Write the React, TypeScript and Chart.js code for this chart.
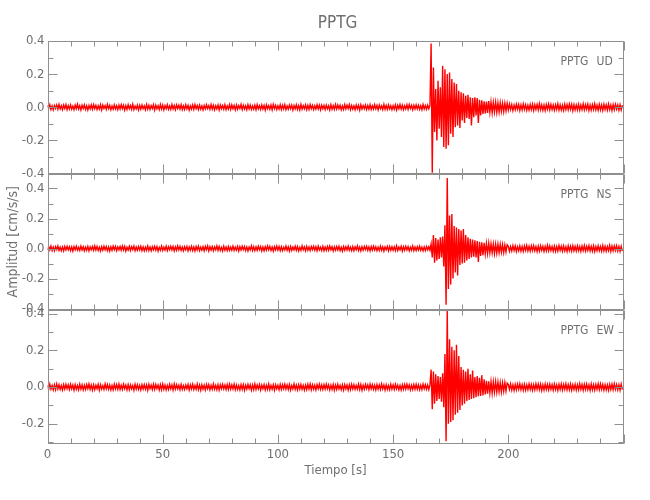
import React, { useEffect, useRef } from "react";
import { Chart, registerables } from "chart.js";

Chart.register(...registerables);

// ---------------- data ----------------
const TITLE = "PPTG";
const STATION = "PPTG";
const COMPONENTS = ["UD", "NS", "EW"];
const X_LABEL = "Tiempo [s]";
const Y_LABEL = "Amplitud [cm/s/s]";
const DT = 0.5; // sampling step of the traces below, in seconds
const MILLI = 0.001; // values are written in milli-(cm/s/s)

const X_RANGE = [0, 250];
const X_TICKS = [0, 50, 100, 150, 200];
const Y_RANGE_UD = [-0.4, 0.4];
const Y_RANGE_NS = [-0.41, 0.5];
const Y_RANGE_EW = [-0.31, 0.42];
const Y_TICKS_UD = [-0.4, -0.2, 0, 0.2, 0.4];
const Y_TICKS_NS = [-0.4, -0.2, 0, 0.2, 0.4];
const Y_TICKS_EW = [-0.2, 0, 0.2, 0.4];

// UD component: 0 - 166 s
const UD_PRE = [
  12,-9,15,-13,8,-16,11,-7,14,-12,17,-10,9,-14,13,-8,16,-15,10,-11,
  14,-12,7,-15,13,-9,18,-11,10,-16,12,-8,15,-13,9,-17,11,-10,14,-12,
  16,-8,12,-14,9,-11,15,-16,13,-7,10,-13,17,-9,11,-15,8,-12,14,-10,
  9,-14,13,-11,16,-8,12,-17,10,-13,15,-9,11,-12,18,-14,7,-10,13,-16,
  11,-12,14,-9,8,-15,16,-11,12,-13,10,-8,15,-17,13,-10,9,-14,17,-11,
  13,-16,10,-9,15,-12,8,-13,17,-10,11,-15,14,-8,12,-11,16,-14,9,-13,
  15,-10,12,-17,9,-11,14,-13,16,-9,10,-14,13,-12,8,-16,11,-10,15,-8,
  10,-13,17,-11,12,-15,9,-10,14,-16,13,-9,11,-12,15,-14,8,-11,16,-13,
  14,-9,11,-16,13,-12,10,-8,17,-14,12,-11,9,-15,16,-10,13,-13,8,-12,
  12,-15,16,-10,9,-13,14,-11,11,-17,15,-9,10,-12,13,-16,17,-8,12,-14,
  9,-11,15,-13,12,-10,16,-14,8,-12,14,-9,13,-17,11,-10,15,-13,10,-16,
  17,-12,10,-9,14,-15,11,-13,16,-8,12,-14,9,-11,15,-10,13,-16,12,-9,
  11,-14,13,-10,9,-16,15,-12,10,-13,17,-11,14,-9,12,-15,8,-13,16,-10,
  13,-8,16,-14,11,-12,9,-15,14,-10,12,-17,15,-11,10,-9,13,-14,11,-12,
  16,-13,9,-11,15,-10,12,-16,13,-9,8,-14,17,-12,11,-13,14,-10,9,-15,
  10,-12,14,-16,12,-9,17,-11,13,-14,9,-10,15,-13,16,-8,11,-15,12,-11,
  14,-10,12,-13,9,-15,16,-11,10,-12,13,-9,11,
];
// UD component: 166.5 - 199.5 s
const UD_EVENT = [
  385,-395,240,-150,110,-200,160,-130,120,-180,
  250,-240,230,-250,200,-230,210,-160,170,-180,
  150,-120,140,-110,100,-125,90,-80,85,-95,
  70,-65,75,-70,60,-110,55,-60,60,-50,
  55,-95,45,-50,42,-40,36,-38,34,-35,
  37,-30,32,-33,29,-28,30,-31,26,-28,
  27,-25,24,-26,25,-22,23,
];
// UD component: 200 - 249.5 s
const UD_POST = [
  -17,19,-14,16,-20,13,-15,18,-12,17,-19,14,-16,20,-13,15,-18,12,-17,16,
  -14,18,-19,15,-13,17,-16,21,-15,14,-18,13,-20,16,-12,19,-15,17,-14,13,
  -18,15,-13,20,-17,14,-16,12,-19,18,-14,16,-15,19,-13,17,-21,15,-16,14,
  -15,17,-18,13,-14,20,-16,15,-12,18,-19,14,-17,16,-13,21,-15,12,-18,17,
  -16,14,-19,18,-13,15,-17,19,-14,13,-20,16,-15,17,-12,14,-18,15,-16,13,
];

// NS component
const NS_PRE = [
  -11,14,-9,16,-13,10,-15,12,-8,17,-12,9,-14,11,-16,13,-10,15,-9,12,
  -14,10,-17,13,-9,15,-11,8,-13,16,-10,12,-15,9,-12,14,-16,11,-8,13,
  -12,17,-10,14,-13,9,-16,12,-11,15,-9,13,-14,10,-17,11,-12,16,-8,14,
  -15,11,-9,13,-12,16,-10,14,-17,9,-11,15,-13,12,-8,16,-14,10,-12,13,
  -10,15,-14,11,-16,9,-12,17,-13,10,-15,12,-9,14,-11,13,-17,8,-12,16,
  -13,9,-11,16,-14,12,-8,15,-10,13,-16,11,-12,17,-9,14,-13,10,-15,12,
  -9,14,-16,10,-12,15,-13,11,-17,13,-10,16,-14,9,-11,12,-15,14,-8,17,
  -16,12,-10,13,-15,11,-9,17,-12,14,-13,8,-16,15,-11,10,-14,13,-12,9,
  -12,16,-13,9,-11,14,-17,12,-10,15,-8,13,-14,11,-16,10,-9,17,-13,12,
  -14,11,-12,15,-9,13,-16,10,-15,12,-11,17,-8,14,-13,9,-17,12,-10,16,
  -11,13,-15,12,-14,9,-10,16,-12,11,-17,14,-13,10,-9,15,-12,13,-16,8,
  -13,17,-9,11,-16,14,-12,10,-14,13,-8,15,-11,12,-15,16,-10,9,-13,14,
  -15,10,-13,14,-11,17,-9,12,-16,11,-12,13,-10,15,-14,8,-17,13,-11,12,
  -10,16,-12,9,-14,13,-15,11,-9,17,-13,10,-16,12,-11,14,-8,15,-12,11,
  -16,13,-11,15,-10,12,-14,9,-13,16,-12,11,-17,10,-9,14,-15,13,-11,12,
  -12,11,-14,17,-13,10,-9,15,-16,12,-11,14,-10,13,-15,9,-12,16,-14,10,
  -13,12,-10,15,-12,9,-16,11,-14,13,-9,12,-11,
];
const NS_EVENT = [
  30,-60,90,-95,70,-80,60,-70,75,-60,
  80,-120,155,-375,470,-270,220,-240,230,-200,
  150,-160,140,-180,130,-110,120,-100,130,-95,
  90,-80,75,-70,65,-60,60,-55,55,-60,
  50,-90,45,-50,42,-45,38,-36,34,-32,
  35,-30,31,-29,30,-33,28,-30,29,-27,
  28,-25,26,-27,24,-23,25,
];
const NS_POST = [
  15,-18,13,-16,19,-14,17,-20,12,-15,18,-17,14,-19,16,-13,20,-16,15,-18,
  17,-14,19,-15,13,-20,16,-17,18,-12,15,-19,14,-16,21,-15,17,-14,13,-18,
  16,-19,14,-17,20,-13,15,-18,17,-16,12,-20,18,-14,16,-17,19,-15,14,-16,
  18,-15,13,-19,16,-14,20,-17,15,-13,19,-16,14,-18,17,-20,13,-15,18,-14,
  14,-17,19,-16,15,-18,13,-14,20,-19,16,-15,17,-13,18,-16,14,-19,15,-17,
];

// EW component
const EW_PRE = [
  10,-13,16,-11,9,-15,12,-14,17,-10,13,-12,8,-16,14,-11,15,-9,12,-13,
  15,-10,11,-17,13,-12,9,-14,16,-11,12,-15,10,-13,14,-9,17,-12,11,-16,
  12,-14,10,-9,15,-16,13,-11,8,-13,17,-10,14,-12,11,-15,9,-14,16,-10,
  14,-11,17,-13,10,-12,16,-9,11,-15,13,-14,12,-10,9,-17,15,-11,13,-12,
  9,-16,13,-10,14,-11,12,-17,15,-9,10,-13,16,-12,14,-8,11,-15,13,-14,
  16,-12,11,-15,9,-13,14,-10,12,-16,17,-11,13,-9,10,-14,15,-12,8,-13,
  11,-9,14,-16,12,-10,15,-13,9,-12,16,-14,11,-17,13,-11,10,-15,14,-9,
  13,-15,9,-12,17,-11,10,-14,13,-16,12,-9,15,-10,11,-13,14,-12,16,-11,
  12,-10,16,-14,11,-13,8,-15,14,-12,13,-17,10,-11,15,-9,12,-16,11,-14,
  17,-13,12,-10,14,-16,11,-9,13,-15,10,-12,16,-14,9,-11,13,-17,12,-10,
  10,-14,15,-12,13,-9,16,-11,12,-13,14,-16,9,-10,17,-12,11,-15,13,-11,
  14,-12,9,-16,11,-13,15,-10,17,-14,12,-11,10,-15,13,-9,16,-12,11,-13,
  13,-11,16,-9,12,-15,10,-13,14,-17,11,-12,15,-10,9,-14,12,-16,13,-10,
  11,-16,12,-14,15,-10,13,-12,9,-11,16,-13,14,-17,10,-12,15,-9,12,-14,
  16,-9,13,-12,10,-15,14,-11,12,-13,17,-10,11,-16,13,-12,9,-14,15,-11,
  12,-13,15,-10,11,-14,9,-16,13,-12,14,-11,16,-9,12,-15,10,-13,14,-12,
  15,-11,12,-14,10,-13,16,-9,13,-12,11,-14,12,
];
const EW_EVENT = [
  95,-120,85,-90,70,-75,60,-65,55,-80,
  75,-110,180,-295,415,-200,260,-190,220,-180,
  200,-150,230,-140,170,-125,110,-100,95,-90,
  85,-75,100,-70,70,-65,90,-60,55,-55,
  60,-50,50,-48,65,-45,42,-40,34,-36,
  32,-31,30,-33,28,-27,29,-26,27,-25,
  24,-26,23,-22,24,-21,22,
];
const EW_POST = [
  15,-13,17,-16,12,-18,14,-15,16,-12,18,-14,13,-17,15,-16,12,-14,17,-13,
  14,-17,13,-15,18,-12,16,-14,15,-18,12,-16,17,-13,14,-15,16,-12,13,-17,
  16,-14,12,-18,15,-13,17,-16,14,-12,18,-15,13,-14,16,-17,12,-13,15,-16,
  13,-15,18,-12,14,-17,15,-13,16,-14,12,-18,17,-15,13,-16,14,-12,18,-14,
  17,-12,14,-16,13,-15,12,-17,15,-13,16,-14,18,-12,14,-15,13,-17,16,-14,
];

const UD = [...UD_PRE, ...UD_EVENT, ...UD_POST];
const NS = [...NS_PRE, ...NS_EVENT, ...NS_POST];
const EW = [...EW_PRE, ...EW_EVENT, ...EW_POST];

// ---------------- styling ----------------
const FONT = "'Liberation Sans Narrow', 'DejaVu Sans Condensed', 'Liberation Sans', sans-serif";
const TEXT = "#6f6f6f";
const AXIS = "#8f8f8f";
const TRACE = "#ff0000";
const PLOT_LEFT = 47.5;
const PLOT_RIGHT_PAD = 26.5;
const PLOT_TOP = 41;
const X_AXIS_H = 56;

const fmt = (v: number) => (Math.abs(v) < 1e-9 ? "0.0" : v.toFixed(1));

const framesPlugin = {
  id: "frames",
  afterDatasetsDraw(chart: any) {
    const ctx = chart.ctx as CanvasRenderingContext2D;
    const xs = chart.scales.x;
    const left = chart.chartArea.left;
    const right = chart.chartArea.right;
    ctx.save();
    ctx.strokeStyle = AXIS;
    ctx.lineWidth = 1;
    ["yUD", "yNS", "yEW"].forEach((id) => {
      const ys = chart.scales[id];
      const top = Math.round(ys.top) + 0.5;
      const bottom = Math.round(ys.bottom) - 0.5;
      const l = Math.round(left) + 0.5;
      const r = Math.round(right) - 0.5;
      ctx.beginPath();
      ctx.moveTo(l, top);
      ctx.lineTo(r, top);
      ctx.lineTo(r, bottom);
      ctx.lineTo(l, bottom);
      ctx.closePath();
      for (let t = X_RANGE[0]; t <= X_RANGE[1]; t += 10) {
        const px = Math.round(xs.getPixelForValue(t)) + 0.5;
        const len = t % 50 === 0 ? 9 : 5;
        ctx.moveTo(px, top);
        ctx.lineTo(px, top + len);
        ctx.moveTo(px, bottom);
        ctx.lineTo(px, bottom - len);
      }
      const k0 = Math.ceil(ys.min * 10 - 1e-6);
      const k1 = Math.floor(ys.max * 10 + 1e-6);
      for (let k = k0; k <= k1; k++) {
        const py = Math.round(ys.getPixelForValue(k / 10)) + 0.5;
        const len = k % 2 === 0 ? 9 : 5;
        ctx.moveTo(l, py);
        ctx.lineTo(l + len, py);
        ctx.moveTo(r, py);
        ctx.lineTo(r - len, py);
      }
      ctx.stroke();
    });
    ctx.restore();
  },
  afterDraw(chart: any) {
    const ctx = chart.ctx as CanvasRenderingContext2D;
    const { left, right } = chart.chartArea;
    ctx.save();
    ctx.fillStyle = TEXT;
    ctx.textBaseline = "middle";
    ctx.textAlign = "center";
    ctx.font = `17px ${FONT}`;
    ctx.fillText(TITLE, (left + right) / 2 + 2, 24);
    ctx.font = `12px ${FONT}`;
    ctx.textAlign = "left";
    ["yUD", "yNS", "yEW"].forEach((id, i) => {
      const ys = chart.scales[id];
      const y = ys.top + 21;
      ctx.fillText(STATION, right - 63, y);
      ctx.fillText(COMPONENTS[i], right - 27, y);
    });
    ctx.restore();
  },
};

export default function App() {
  const ref = useRef<HTMLCanvasElement>(null);

  useEffect(() => {
    const canvas = ref.current;
    if (!canvas) return;
    const time = UD.map((_, i) => i * DT);
    const pts = (vals: number[]) => time.map((t, i) => ({ x: t, y: vals[i] * MILLI }));

    const yScale = (range: number[], ticks: number[], weight: number, title?: string) => ({
      type: "linear",
      position: "left",
      stack: "seis",
      stackWeight: weight,
      min: range[0],
      max: range[1],
      grid: { display: false, drawTicks: false },
      border: { display: false },
      ticks: {
        autoSkip: false,
        padding: 3,
        color: TEXT,
        font: { family: FONT, size: 13 },
        callback: (v: any) => fmt(Number(v)),
      },
      afterBuildTicks: (s: any) => {
        s.ticks = ticks.map((v) => ({ value: v }));
      },
      afterFit: (s: any) => {
        s.width = PLOT_LEFT;
      },
      title: title
        ? {
            display: true,
            text: title,
            color: TEXT,
            font: { family: FONT, size: 14 },
            padding: { top: 5, bottom: 0 },
          }
        : { display: false },
    });

    const ds = (vals: number[], yAxisID: string, label: string) => ({
      label,
      data: pts(vals),
      yAxisID,
      xAxisID: "x",
      borderColor: TRACE,
      borderWidth: 1.4,
      pointRadius: 0,
      tension: 0,
      fill: false,
    });

    // stacked y axes are laid out bottom-up: EW first (bottom), UD last (top)
    const chart = new Chart(canvas, {
      type: "line",
      data: {
        datasets: [
          ds(UD, "yUD", `${STATION} ${COMPONENTS[0]}`),
          ds(NS, "yNS", `${STATION} ${COMPONENTS[1]}`),
          ds(EW, "yEW", `${STATION} ${COMPONENTS[2]}`),
        ],
      },
      options: {
        responsive: false,
        animation: false,
        devicePixelRatio: 1,
        normalized: true,
        layout: { padding: { top: PLOT_TOP, right: PLOT_RIGHT_PAD, bottom: 0, left: 0 } },
        plugins: { legend: { display: false }, tooltip: { enabled: false }, title: { display: false } },
        scales: {
          x: {
            type: "linear",
            position: "bottom",
            min: X_RANGE[0],
            max: X_RANGE[1],
            grid: { display: false, drawTicks: false },
            border: { display: false },
            ticks: {
              autoSkip: false,
              maxRotation: 0,
              padding: 3,
              color: TEXT,
              font: { family: FONT, size: 13 },
            },
            afterBuildTicks: (s: any) => {
              s.ticks = X_TICKS.map((v) => ({ value: v }));
            },
            afterFit: (s: any) => {
              s.height = X_AXIS_H;
            },
            title: {
              display: true,
              text: X_LABEL,
              color: TEXT,
              font: { family: FONT, size: 13 },
              padding: { top: 0, bottom: 22 },
            },
          },
          yEW: yScale(Y_RANGE_EW, Y_TICKS_EW, 134),
          yNS: yScale(Y_RANGE_NS, Y_TICKS_NS, 136.5, Y_LABEL),
          yUD: yScale(Y_RANGE_UD, Y_TICKS_UD, 132.5),
        } as any,
      },
      plugins: [framesPlugin],
    } as any);

    return () => chart.destroy();
  }, []);

  return (
    <div style={{ position: "fixed", left: 0, top: 0, width: 650, height: 500, background: "#fff" }}>
      <canvas ref={ref} width={650} height={500} style={{ display: "block" }} />
    </div>
  );
}
